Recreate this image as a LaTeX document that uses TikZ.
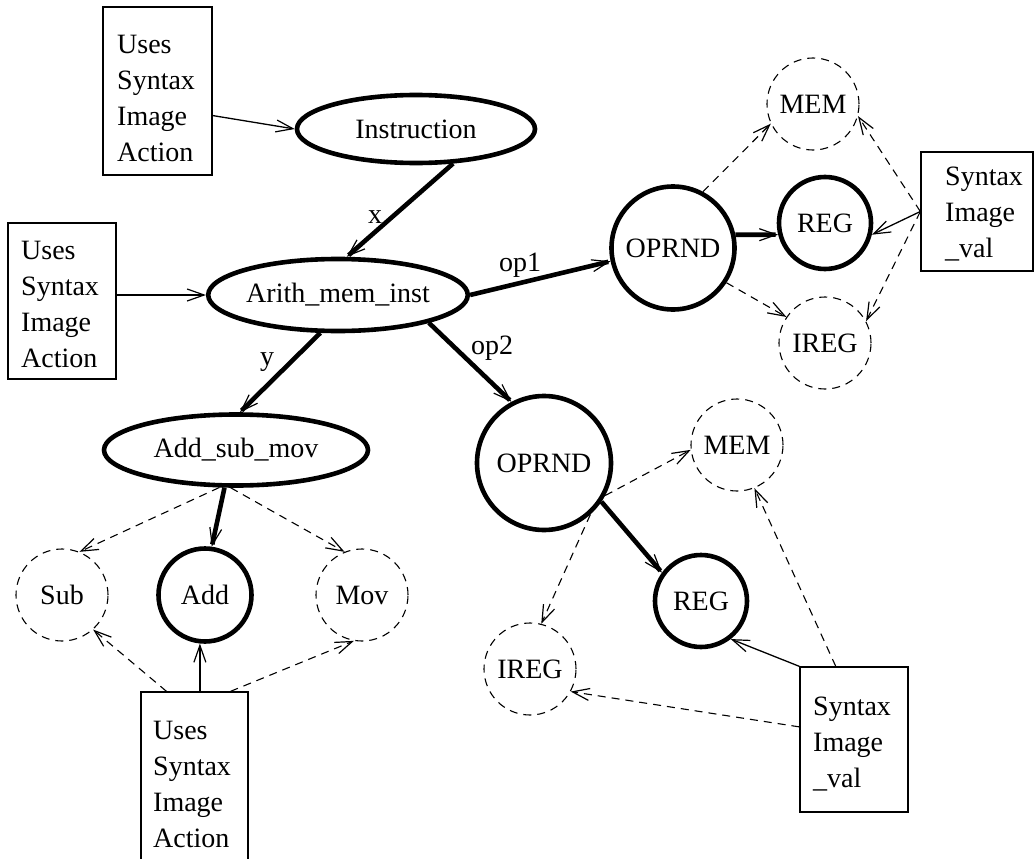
\documentclass[tikz,border=0pt]{standalone}
\usepackage{fontspec}
\setmainfont{Liberation Serif}
\usetikzlibrary{arrows.meta,shapes.geometric}

\begin{document}
\begin{tikzpicture}[x=1pt,y=-1pt,
  every node/.style={font=\fontsize{28}{36}\selectfont},
  oval/.style={draw, ellipse, line width=4.6pt, inner sep=0pt},
  ring/.style={draw, circle, line width=4.6pt, inner sep=0pt},
  ghost/.style={draw, circle, line width=1.1pt, dash pattern=on 8pt off 6pt,
                inner sep=0pt, minimum size=92pt},
  infobox/.style={draw, rectangle, line width=1.3pt, inner sep=0pt},
  boxtext/.style={inner sep=0pt, anchor=base west},
  lbl/.style={inner sep=0pt},
  tip/.style={-{Straight Barb[length=17pt,width=12pt,line width=1.2pt]}},
  main/.style={tip, line width=4.6pt},
  link/.style={tip, line width=1.3pt},
  alt/.style={tip, line width=1.1pt, dash pattern=on 8pt off 6pt},
]
\useasboundingbox (0,0) rectangle (1034,859);
\clip (0,0) rectangle (1034,859);

% ---- grammar nodes ----
\node[oval, minimum width=238pt, minimum height=68pt] (instr) at (416,129) {Instruction};
\node[oval, minimum width=250pt, minimum height=72pt] (arith) at (338,295) {Arith\_mem\_inst};
\node[oval, minimum width=264pt, minimum height=71pt] (asm) at (236,450) {Add\_sub\_mov};

\node[ring, minimum size=123pt] (op1) at (673,248) {OPRND};
\node[ring, minimum size=134pt] (op2) at (544,463) {OPRND};
\node[ring, minimum size=92pt] (reg1) at (825,223) {REG};
\node[ring, minimum size=92pt] (reg2) at (701,601) {REG};
\node[ring, minimum size=93pt] (add) at (205,595) {Add};

\node[ghost] (mem1) at (813,104) {MEM};
\node[ghost] (ireg1) at (825,343) {IREG};
\node[ghost] (mem2) at (737,445) {MEM};
\node[ghost] (ireg2) at (530,669) {IREG};
\node[ghost] (sub) at (62,595) {Sub};
\node[ghost] (mov) at (362,595) {Mov};

% ---- attribute boxes ----
\node[infobox, minimum width=109pt, minimum height=168pt] (b1) at (157.5,91) {};
\node[boxtext] (b1t) at (117,54) {\parbox[t]{90pt}{\raggedright Uses\\Syntax\\Image\\Action}};
\node[infobox, minimum width=108pt, minimum height=156pt] (b2) at (62,301) {};
\node[boxtext] (b2t) at (21,259) {\parbox[t]{90pt}{\raggedright Uses\\Syntax\\Image\\Action}};
\node[infobox, minimum width=107pt, minimum height=208pt] (b3) at (194.5,796) {};
\node[boxtext] (b3t) at (153,739) {\parbox[t]{90pt}{\raggedright Uses\\Syntax\\Image\\Action}};
\node[infobox, minimum width=112pt, minimum height=119pt] (b4) at (977,211.5) {};
\node[boxtext] (b4t) at (945,185) {\parbox[t]{90pt}{\raggedright Syntax\\Image\\\_val}};
\node[infobox, minimum width=108pt, minimum height=145pt] (b5) at (854,739.5) {};
\node[boxtext] (b5t) at (813,715) {\parbox[t]{90pt}{\raggedright Syntax\\Image\\\_val}};

% ---- edge labels ----
\node[lbl] (lx) at (375,217) {x};
\node[lbl] (ly) at (267,362) {y};
\node[lbl] (lop1) at (520,265) {op1};
\node[lbl] (lop2) at (492,348) {op2};

% ---- structural edges ----
\draw[main] (instr.-43) -- (arith.77);
\draw[main] (arith.east) -- (op1.192);
\draw[main] (arith.-17) -- (op2.118);
\draw[main] (arith.245) -- (asm.84);
\draw[main] (op1.12) -- (reg1.194);
\draw[main] (op2.-34) -- (reg2.144);
\draw[main] (asm.-107) -- (add.82);

% ---- alternatives ----
\draw[alt] (op1.62) -- (mem1.205);
\draw[alt] (op1.-33) -- (ireg1.146);
\draw[alt] (op2.-28) -- (mem2.186);
\draw[alt] (op2.-48) -- (ireg2.76);
\draw[alt] (asm.-114) -- (sub.68);
\draw[alt] (asm.-98) -- (mov.112);

% ---- attribute links ----
\draw[link] (b1.-24) -- (instr.west);
\draw[link] (arith.west -| b2.east) -- (arith.west);
\draw[link] (b3.north -| add.-96) -- (add.-96);
\draw[alt] ([xshift=-28pt]b3.north) -- (sub.-48);
\draw[alt] ([xshift=36pt]b3.north) -- (mov.-100);
\draw[link] (b4.west) -- (reg1.-14);
\draw[alt] (b4.west) -- (mem1.-15);
\draw[alt] (b4.west) -- (ireg1.28);
\draw[link] (b5.north west) -- (reg2.-52);
\draw[alt] (b5.104) -- (mem2.-68);
\draw[alt] (b5.167) -- (ireg2.-29);
\end{tikzpicture}
\end{document}
